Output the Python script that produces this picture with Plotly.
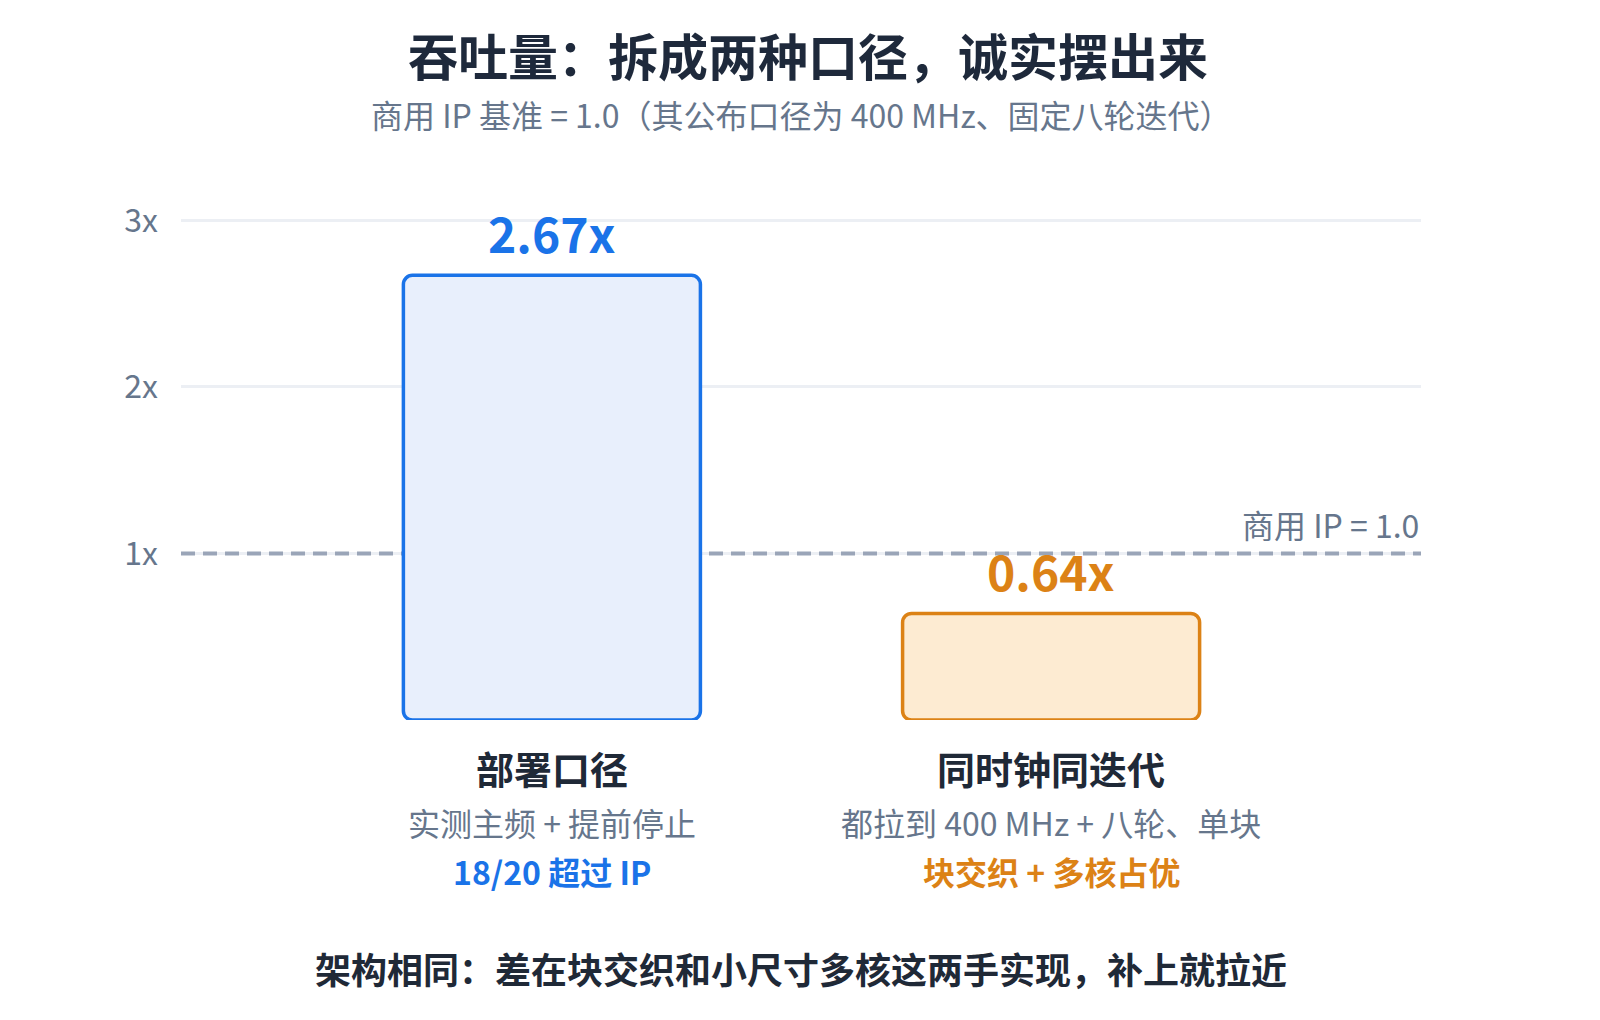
import plotly.graph_objects as go

# chart data
categories = ["部署口径", "同时钟同迭代"]
ratios = [2.67, 0.64]
value_labels = ["2.67x", "0.64x"]
method_notes = ["实测主频 + 提前停止", "都拉到 400 MHz + 八轮、单块"]
highlights = ["18/20 超过 IP", "块交织 + 多核占优"]
baseline = 1.0
tick_vals = [1, 2, 3]
tick_text = ["1x", "2x", "3x"]

FONT = "Noto Sans CJK SC"
accent = ["#1a73e8", "#dc8216"]
fills = ["#e8effc", "#fdebd2"]
DARK = "#1f2937"
GRAY = "#66768c"

x_range = [-0.743, 1.741]

# a tiny non-zero base makes plotly round both ends of the bar
fig = go.Figure(go.Bar(
    x=categories,
    y=ratios,
    base=1e-6,
    width=0.595,
    marker=dict(color=fills, line=dict(color=accent, width=3.5), cornerradius=9),
    hoverinfo="skip",
))

# baseline reference line, between grid and bars
fig.add_shape(type="line", xref="x", yref="y", x0=x_range[0], x1=x_range[1], y0=baseline, y1=baseline,
              line=dict(color="#9aa5b8", width=4, dash="14px,8px"), layer="between")

annotations = []
for i, cat in enumerate(categories):
    annotations.append(dict(x=cat, y=ratios[i], text="<b>%s</b>" % value_labels[i], showarrow=False,
                            yanchor="middle", yshift=43, font=dict(size=48, color=accent[i], family=FONT)))
    annotations.append(dict(x=cat, y=0, text="<b>%s</b>" % cat, showarrow=False,
                            yanchor="middle", yshift=-47, font=dict(size=38, color=DARK, family=FONT)))
    annotations.append(dict(x=cat, y=0, text=method_notes[i], showarrow=False,
                            yanchor="middle", yshift=-102, font=dict(size=32, color=GRAY, family=FONT)))
    annotations.append(dict(x=cat, y=0, text="<b>%s</b>" % highlights[i], showarrow=False,
                            yanchor="middle", yshift=-151, font=dict(size=32, color=accent[i], family=FONT)))

annotations.append(dict(xref="paper", x=1, y=baseline, text="商用 IP = 1.0", showarrow=False,
                        xanchor="right", yanchor="middle", yshift=29,
                        font=dict(size=32, color=GRAY, family=FONT)))
annotations.append(dict(xref="paper", yref="paper", x=0.5, y=1.205,
                        text="商用 IP 基准 = 1.0（其公布口径为 400 MHz、固定八轮迭代）", showarrow=False,
                        yanchor="middle", font=dict(size=32, color=GRAY, family=FONT)))
annotations.append(dict(xref="paper", yref="paper", x=0.5, y=-0.494,
                        text="<b>架构相同：差在块交织和小尺寸多核这两手实现，补上就拉近</b>", showarrow=False,
                        yanchor="middle", font=dict(size=36, color=DARK, family=FONT)))

fig.update_layout(
    width=1600, height=1020,
    margin=dict(l=173, r=187, t=209, b=308),
    paper_bgcolor="white", plot_bgcolor="white",
    title=dict(text="<b>吞吐量：拆成两种口径，诚实摆出来</b>", x=0.5, xanchor="center",
               y=1 - 50 / 1020, yanchor="middle", font=dict(size=50, color="#1e293b", family=FONT)),
    font=dict(family=FONT),
    showlegend=False,
    annotations=annotations,
)
fig.update_xaxes(range=x_range, showticklabels=False, showgrid=False, zeroline=False, showline=False)
fig.update_yaxes(range=[0, 3.02], tickvals=tick_vals, ticktext=tick_text, showgrid=True, gridcolor="#eceff4",
                 gridwidth=3, zeroline=False, showline=False, ticklabelstandoff=22,
                 tickfont=dict(size=32, color=GRAY, family=FONT))

fig.write_html("out.html")
